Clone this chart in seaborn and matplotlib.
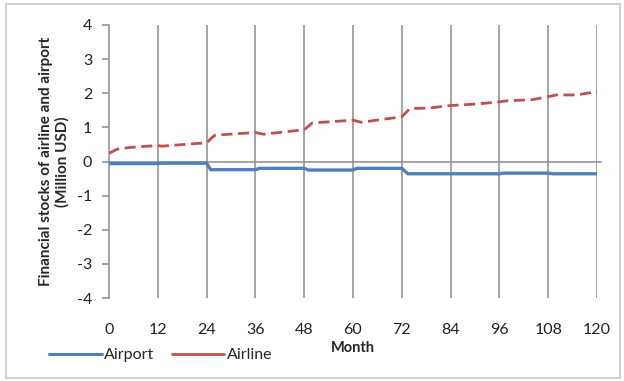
import matplotlib
matplotlib.use("Agg")
import matplotlib.pyplot as plt
import seaborn as sns
import pandas as pd
from matplotlib.lines import Line2D
from matplotlib.patches import Rectangle

# Financial stocks (million USD) over the 10-year horizon
airport_months = [0, 12, 13, 24, 25, 36, 37, 48, 49, 60, 61, 72, 73.5, 96, 97, 108, 109, 120]
airport_values = [-0.06, -0.06, -0.05, -0.05, -0.24, -0.24, -0.20, -0.20, -0.25, -0.25,
                  -0.20, -0.20, -0.36, -0.36, -0.34, -0.34, -0.36, -0.36]

airline_months = [0, 2, 5, 12, 13, 23, 24, 26, 36, 38, 48, 50, 60, 62, 72, 74, 79, 84,
                  91, 96, 98, 104, 108, 110, 115, 120]
airline_values = [0.24, 0.36, 0.41, 0.47, 0.45, 0.54, 0.55, 0.77, 0.85, 0.80, 0.93, 1.13,
                  1.21, 1.15, 1.31, 1.55, 1.57, 1.64, 1.69, 1.75, 1.78, 1.81, 1.90, 1.95,
                  1.95, 2.05]

x_ticks = list(range(0, 121, 12))
y_ticks = [-4, -3, -2, -1, 0, 1, 2, 3, 4]

series_names = ["Airport", "Airline"]
BLUE = "#4f81bd"
RED = "#c0504d"
GRID = "#8c8c8c"

sns.set_theme(style="white")
plt.rcParams["font.family"] = ["Lato", "DejaVu Sans"]

airport_df = pd.DataFrame({"Month": airport_months, "Value": airport_values})
airline_df = pd.DataFrame({"Month": airline_months, "Value": airline_values})

fig = plt.figure(figsize=(6.24, 3.81), dpi=100)
ax = fig.add_axes([109 / 624, 1 - 298 / 381, (597 - 109) / 624, (298 - 25) / 381])

ax.set_xlim(0, 120)
ax.set_ylim(-4, 4)

# vertical gridlines at each year mark
for m in x_ticks[1:]:
    ax.axvline(m, color=GRID, lw=1.1, zorder=1)
# horizontal zero axis, running a touch past the last month
ax.plot([0, 121], [0, 0], color=GRID, lw=1.1, zorder=1, clip_on=False)

sns.lineplot(data=airport_df, x="Month", y="Value", ax=ax, color=BLUE, lw=2.4,
             zorder=3, legend=False)
sns.lineplot(data=airline_df, x="Month", y="Value", ax=ax, color=RED, lw=2.0,
             zorder=3, legend=False)
ax.lines[-1].set_dashes([4, 2])

for side in ["top", "right", "bottom"]:
    ax.spines[side].set_visible(False)
ax.spines["left"].set_color(GRID)
ax.spines["left"].set_linewidth(1.1)

ax.set_yticks(y_ticks)
ax.set_yticklabels([str(v) for v in y_ticks], fontsize=11.5, color="#222222")
ax.tick_params(axis="y", which="both", left=True, direction="out", length=5,
               width=1.1, color=GRID, pad=7)
ax.set_xticks(x_ticks)
ax.set_xticklabels([str(v) for v in x_ticks], fontsize=11.5, color="#222222")
ax.tick_params(axis="x", bottom=False, pad=12)

ax.set_xlabel("Month", fontsize=10.5, fontweight="bold", labelpad=3)
ax.set_ylabel("Financial stocks of airline and airport\n(Million USD)", fontsize=11,
              fontweight="bold", labelpad=5, linespacing=1.25)

handles = [Line2D([], [], color=BLUE, lw=2.2), Line2D([], [], color=RED, lw=2.0)]
fig.legend(handles, series_names, loc="center left", bbox_to_anchor=(0.068, 1 - 355 / 381),
           ncol=2, frameon=False, fontsize=11.5, handlelength=3.3, handletextpad=0.15,
           columnspacing=1.1, borderaxespad=0)

fig.patches.append(Rectangle((6 / 624, 3 / 381), 614 / 624, 374 / 381, transform=fig.transFigure,
                             fill=False, edgecolor="#c8c8c8", lw=1.2))

fig.savefig("out.png", dpi=100)
